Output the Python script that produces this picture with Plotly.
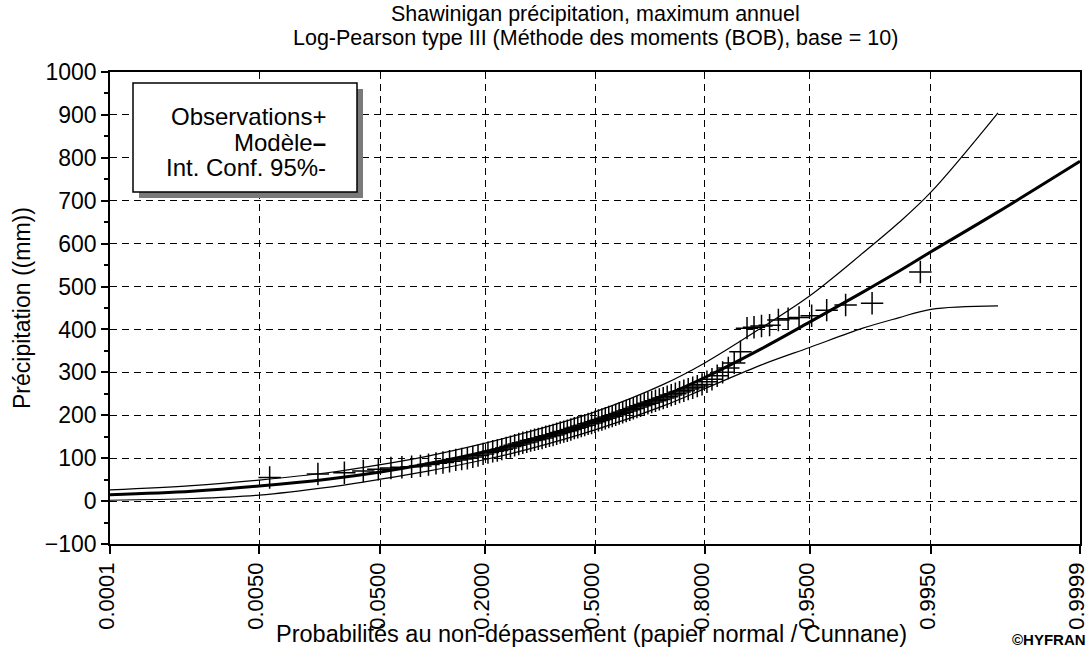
import plotly.graph_objects as go
from statistics import NormalDist

# ---------------- data ----------------
tick_probs = [0.0001, 0.005, 0.05, 0.2, 0.5, 0.8, 0.95, 0.995, 0.9999]
tick_labels = ["0.0001", "0.0050", "0.0500", "0.2000", "0.5000", "0.8000", "0.9500", "0.9950", "0.9999"]

model_p = [0.0001, 0.001, 0.005, 0.02, 0.05, 0.1, 0.2, 0.3, 0.5, 0.7, 0.8, 0.9, 0.95, 0.98, 0.99, 0.995, 0.999, 0.9999]
model_v = [15, 23, 35, 51, 68, 87, 115, 139, 186, 245, 288, 356, 417, 487, 535, 581, 674, 792]

ci_p = [0.0001, 0.001, 0.005, 0.02, 0.05, 0.1, 0.2, 0.3, 0.5, 0.7, 0.8, 0.9, 0.95, 0.98, 0.99, 0.995, 0.999]
ci_upper = [26, 36, 49, 66, 85, 105, 135, 160, 208, 272, 322, 405, 478, 578, 648, 720, 905]
ci_lower = [2, 6, 14, 32, 51, 70, 97, 120, 166, 222, 262, 318, 358, 403, 427, 447, 455]

observations = [
    55, 63, 66, 70, 74, 77, 79, 80, 82, 85,
    88, 90, 93, 96, 98, 100, 103, 106, 110, 113,
    116, 118, 121, 124, 127, 130, 133, 136, 138, 141,
    143, 145, 147, 150, 152, 154, 157, 160, 162, 164,
    167, 170, 172, 175, 177, 180, 182, 185,
    188, 190, 193, 196, 198, 201, 204, 207, 210, 213, 216, 219,
    222, 225, 228, 231, 234, 237, 240, 243, 247, 250,
    254, 257, 261, 264, 268, 272, 278, 284, 292, 300,
    310, 322, 348,
    403, 405, 408, 410, 422, 425, 428, 432, 445, 457, 461, 534,
]

# ---------------- normal probability scale ----------------
nd = NormalDist()
def zscale(p):
    return nd.inv_cdf(p)

n_obs = len(observations)
obs_p = [(i + 1 - 0.4) / (n_obs + 0.2) for i in range(n_obs)]  # Cunnane plotting positions

FONT = "Liberation Sans, Arial, sans-serif"
W, H = 1090, 658
L, R, T, B = 110, 10, 72, 114
PW, PH = W - L - R, H - T - B

def px_x(x):
    return (x - L) / PW

def px_y(y):
    return 1 - (y - T) / PH

fig = go.Figure()

fig.add_trace(go.Scatter(
    x=[zscale(p) for p in ci_p], y=ci_upper, mode="lines",
    line=dict(color="black", width=1.2, shape="spline"), showlegend=False, hoverinfo="skip"))
fig.add_trace(go.Scatter(
    x=[zscale(p) for p in ci_p], y=ci_lower, mode="lines",
    line=dict(color="black", width=1.2, shape="spline"), showlegend=False, hoverinfo="skip"))
fig.add_trace(go.Scatter(
    x=[zscale(p) for p in model_p], y=model_v, mode="lines",
    line=dict(color="black", width=3, shape="spline"), showlegend=False))
fig.add_trace(go.Scatter(
    x=[zscale(p) for p in obs_p], y=observations, mode="markers",
    marker=dict(symbol="cross-thin", size=16, line=dict(width=1.5, color="black")),
    showlegend=False))

zmax = -zscale(0.0001) + 1e-5

fig.update_xaxes(
    range=[-zmax, zmax], automargin=False,
    tickvals=[zscale(p) for p in tick_probs], ticktext=tick_labels,
    tickangle=-90, ticks="outside", ticklen=8, tickwidth=1.5, tickcolor="black",
    tickfont=dict(family=FONT, size=22, color="black"),
    ticklabeloverflow="allow", ticklabelshift=-3,
    showline=True, linecolor="black", linewidth=1.5, mirror=True,
    showgrid=True, gridcolor="black", gridwidth=1.2, griddash="7px,5px",
    zeroline=False,
)
fig.update_yaxes(
    range=[-100, 1000], dtick=100, tick0=0, automargin=False,
    ticks="outside", ticklen=7, tickwidth=1.5, tickcolor="black",
    minor=dict(dtick=50, ticks="outside", ticklen=4, tickcolor="black", showgrid=False),
    tickfont=dict(family=FONT, size=23, color="black"),
    showline=True, linecolor="black", linewidth=1.5, mirror=True,
    showgrid=True, gridcolor="black", gridwidth=1.2, griddash="7px,5px",
    zeroline=False,
)

shapes = [
    # legend shadow
    dict(type="rect", xref="paper", yref="paper",
         x0=px_x(139), x1=px_x(363), y0=px_y(198), y1=px_y(89),
         fillcolor="#7a7a7a", line=dict(width=0), layer="above"),
    # legend box
    dict(type="rect", xref="paper", yref="paper",
         x0=px_x(133), x1=px_x(357), y0=px_y(192), y1=px_y(83),
         fillcolor="white", line=dict(color="black", width=1.5), layer="above"),
]

ann = []
def add_text(text, x, y, size=23, xanchor="center", yanchor="middle", angle=0):
    ann.append(dict(text=text, x=px_x(x), y=px_y(y), xref="paper", yref="paper",
                    showarrow=False, xanchor=xanchor, yanchor=yanchor, textangle=angle,
                    font=dict(family=FONT, size=size, color="black")))

add_text("Shawinigan précipitation, maximum annuel", 595, 13.5, size=21.5)
add_text("Log-Pearson type III (Méthode des moments (BOB), base = 10)", 595, 38, size=21.5)
add_text("Probabilités au non-dépassement (papier normal / Cunnane)", 591, 634, size=23.5)
add_text("Précipitation ((mm))", 22, 308, angle=-90)
add_text("<b>©HYFRAN</b>", 1088, 639, size=15, xanchor="right")
add_text("Observations+", 328, 117, size=24, xanchor="right")
add_text("Modèle<b>–</b>", 328, 142, size=24, xanchor="right")
add_text("Int. Conf. 95%-", 328, 167, size=24, xanchor="right")

fig.update_layout(
    width=W, height=H,
    margin=dict(l=L, r=R, t=T, b=B),
    paper_bgcolor="white", plot_bgcolor="white",
    shapes=shapes, annotations=ann,
    showlegend=False, hovermode=False,
    font=dict(family=FONT, color="black"),
)

fig.write_html("out.html", config={"displayModeBar": False},
               post_script="document.body.style.margin='0';")
